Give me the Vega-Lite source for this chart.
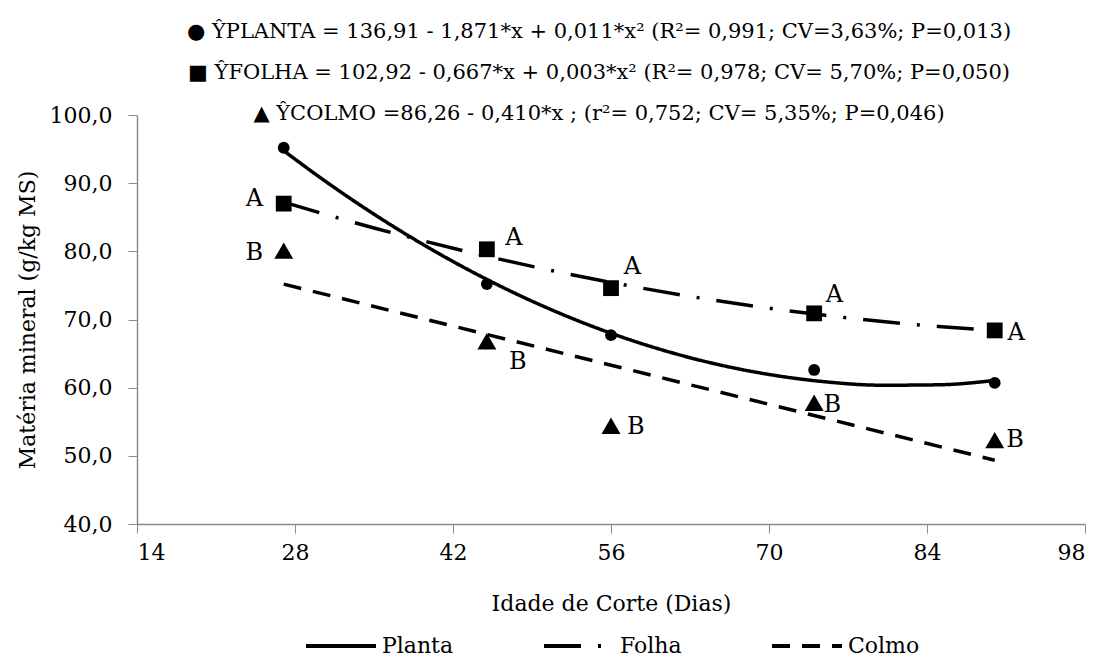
{
  "$schema": "https://vega.github.io/schema/vega-lite/v6.json",
  "autosize": {"type": "none"},
  "padding": {"left": 137, "top": 115, "right": 15, "bottom": 136},
  "width": 948,
  "height": 409,
  "background": "white",
  "title": {
    "text": [
      "● ŶPLANTA = 136,91 -  1,871*x +  0,011*x²  (R²= 0,991; CV=3,63%; P=0,013)",
      "■ ŶFOLHA  = 102,92 - 0,667*x +  0,003*x²  (R²= 0,978; CV= 5,70%; P=0,050)",
      "▲ ŶCOLMO =86,26 - 0,410*x  ;  (r²= 0,752; CV= 5,35%; P=0,046)"
    ],
    "font": "DejaVu Serif",
    "fontSize": 21,
    "fontWeight": "normal",
    "color": "black",
    "anchor": "middle",
    "lineHeight": 41,
    "offset": -20,
    "dx": -12
  },
  "datasets": {
    "pts": [
      {"componente": "Planta", "idade": 27, "valor": 95.2},
      {"componente": "Planta", "idade": 45, "valor": 75.2},
      {"componente": "Planta", "idade": 56, "valor": 67.7},
      {"componente": "Planta", "idade": 74, "valor": 62.6},
      {"componente": "Planta", "idade": 90, "valor": 60.7},
      {"componente": "Folha", "idade": 27, "valor": 87.0},
      {"componente": "Folha", "idade": 45, "valor": 80.3},
      {"componente": "Folha", "idade": 56, "valor": 74.6},
      {"componente": "Folha", "idade": 74, "valor": 70.9},
      {"componente": "Folha", "idade": 90, "valor": 68.4},
      {"componente": "Colmo", "idade": 27, "valor": 80.1},
      {"componente": "Colmo", "idade": 45, "valor": 66.8},
      {"componente": "Colmo", "idade": 56, "valor": 54.4},
      {"componente": "Colmo", "idade": 74, "valor": 57.8},
      {"componente": "Colmo", "idade": 90, "valor": 52.3}
    ],
    "curvas": [
      {"serie": "Planta", "idade": 27, "valor": 94.76},
      {"serie": "Planta", "idade": 30, "valor": 91.10},
      {"serie": "Planta", "idade": 35, "valor": 85.45},
      {"serie": "Planta", "idade": 40, "valor": 80.38},
      {"serie": "Planta", "idade": 45, "valor": 75.88},
      {"serie": "Planta", "idade": 50, "valor": 71.95},
      {"serie": "Planta", "idade": 55, "valor": 68.59},
      {"serie": "Planta", "idade": 60, "valor": 65.80},
      {"serie": "Planta", "idade": 65, "valor": 63.58},
      {"serie": "Planta", "idade": 70, "valor": 61.94},
      {"serie": "Planta", "idade": 75, "valor": 60.86},
      {"serie": "Planta", "idade": 80, "valor": 60.36},
      {"serie": "Planta", "idade": 85, "valor": 60.42},
      {"serie": "Planta", "idade": 90, "valor": 61.06},
      {"serie": "Folha", "idade": 27, "valor": 87.21},
      {"serie": "Folha", "idade": 35, "valor": 83.43},
      {"serie": "Folha", "idade": 45, "valor": 79.28},
      {"serie": "Folha", "idade": 55, "valor": 75.76},
      {"serie": "Folha", "idade": 65, "valor": 72.87},
      {"serie": "Folha", "idade": 75, "valor": 70.61},
      {"serie": "Folha", "idade": 85, "valor": 68.98},
      {"serie": "Folha", "idade": 90, "valor": 68.41},
      {"serie": "Colmo", "idade": 27, "valor": 75.19},
      {"serie": "Colmo", "idade": 90, "valor": 49.36}
    ],
    "letras": [
      {"idade": 24.4, "valor": 87.7, "letra": "A"},
      {"idade": 47.4, "valor": 82.0, "letra": "A"},
      {"idade": 57.9, "valor": 77.7, "letra": "A"},
      {"idade": 75.8, "valor": 73.6, "letra": "A"},
      {"idade": 91.9, "valor": 68.0, "letra": "A"},
      {"idade": 24.4, "valor": 79.8, "letra": "B"},
      {"idade": 47.75, "valor": 63.8, "letra": "B"},
      {"idade": 58.2, "valor": 54.3, "letra": "B"},
      {"idade": 75.6, "valor": 57.5, "letra": "B"},
      {"idade": 91.8, "valor": 52.3, "letra": "B"}
    ]
  },
  "encoding": {
    "x": {
      "field": "idade",
      "type": "quantitative",
      "scale": {"domain": [14, 98], "nice": false, "zero": false},
      "axis": {
        "title": "Idade de Corte (Dias)",
        "values": [14, 28, 42, 56, 70, 84, 98],
        "grid": false,
        "tickSize": 9,
        "labelPadding": 9,
        "titlePadding": 30
      }
    },
    "y": {
      "field": "valor",
      "type": "quantitative",
      "scale": {"domain": [40, 100], "nice": false, "zero": false},
      "axis": {
        "title": "Matéria mineral (g/kg MS)",
        "values": [40, 50, 60, 70, 80, 90, 100],
        "labelExpr": "replace(format(datum.value, '.1f'), '.', ',')",
        "grid": false,
        "tickSize": 9,
        "labelPadding": 16,
        "titlePadding": 10
      }
    }
  },
  "layer": [
    {
      "data": {"name": "curvas"},
      "mark": {"type": "line", "color": "black", "strokeWidth": 3.5, "interpolate": "monotone"},
      "encoding": {
        "strokeDash": {
          "field": "serie",
          "type": "nominal",
          "scale": {"domain": ["Planta", "Folha", "Colmo"], "range": [[1, 0], [37, 17, 3, 17], [18, 12]]},
          "legend": {
            "title": null,
            "orient": "none",
            "legendX": 167,
            "legendY": 494,
            "direction": "horizontal",
            "symbolType": "stroke",
            "symbolSize": 4900,
            "symbolStrokeWidth": 4,
            "symbolStrokeColor": "black",
            "labelFont": "DejaVu Serif",
            "labelFontSize": 22,
            "labelColor": "black",
            "labelOffset": 4,
            "columnPadding": 82
          }
        }
      }
    },
    {
      "data": {"name": "pts"},
      "mark": {"type": "point", "filled": true, "color": "black", "opacity": 1},
      "encoding": {
        "shape": {
          "field": "componente",
          "type": "nominal",
          "scale": {"domain": ["Planta", "Folha", "Colmo"], "range": ["circle", "square", "triangle-up"]},
          "legend": null
        },
        "size": {
          "field": "componente",
          "type": "nominal",
          "scale": {"domain": ["Planta", "Folha", "Colmo"], "range": [140, 360, 230]},
          "legend": null
        }
      }
    },
    {
      "data": {"name": "letras"},
      "mark": {"type": "text", "font": "DejaVu Serif", "fontSize": 24, "color": "black"},
      "encoding": {"text": {"field": "letra"}}
    }
  ],
  "resolve": {"scale": {"shape": "independent", "size": "independent", "strokeDash": "independent"}, "legend": {"shape": "independent", "strokeDash": "independent"}},
  "config": {
    "font": "DejaVu Serif",
    "view": {"stroke": null},
    "axis": {
      "domainColor": "#8c8c8c",
      "tickColor": "#8c8c8c",
      "domainWidth": 1.5,
      "labelFont": "DejaVu Serif",
      "labelFontSize": 22,
      "labelColor": "black",
      "titleFont": "DejaVu Serif",
      "titleFontSize": 22,
      "titleFontWeight": "normal",
      "titleColor": "black"
    }
  }
}
